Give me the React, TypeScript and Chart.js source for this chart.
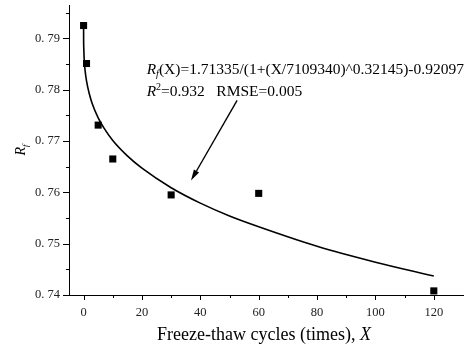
import React, { useEffect, useRef } from "react";
import { Chart, registerables } from "chart.js";

Chart.register(...registerables);

// Measured points
const cyclesX = [0, 1, 5, 10, 30, 60, 120];
const rfValues = [0.7925, 0.7851, 0.7731, 0.7665, 0.7595, 0.7598, 0.7408];

// Fitted curve
const fitX = [0, 0.01, 0.05, 0.2, 0.5, 1, 2, 3, 5, 7, 10, 15, 20, 30, 40, 50, 60, 80, 100, 120];
const fitY = [0.7924, 0.7899, 0.7883, 0.786, 0.7838, 0.7817, 0.7791, 0.7772, 0.7745, 0.7725, 0.7701, 0.7671, 0.7647, 0.7609, 0.7579, 0.7554, 0.7533, 0.7495, 0.7464, 0.7437];

const xTicks = [0, 20, 40, 60, 80, 100, 120];
const xMinorTicks = [10, 30, 50, 70, 90, 110];
const yTicks = [0.74, 0.75, 0.76, 0.77, 0.78, 0.79];
const yMinorTicks = [0.745, 0.755, 0.765, 0.775, 0.785, 0.795];

const xTitle = "Freeze-thaw cycles (times), ";
const xTitleItalic = "X";
const fitText = "(X)=1.71335/(1+(X/7109340)^0.32145)-0.92097";
const statsText = "=0.932   RMSE=0.005";

// anchors (data coordinates)
const textAnchor = { x: 21.6, y1: 0.783, y2: 0.7788 };
const arrowFrom = { x: 52.6, y: 0.7779 };
const arrowTo = { x: 36.8, y: 0.7623 };

const SERIF = "'Liberation Serif', 'Times New Roman', serif";

const decorPlugin = {
  id: "decor",
  afterDraw(chart: any) {
    const ctx = chart.ctx;
    const xs = chart.scales.x;
    const ys = chart.scales.y;
    const area = chart.chartArea;
    ctx.save();
    ctx.strokeStyle = "#000";
    ctx.lineWidth = 1;
    // x ticks
    ctx.beginPath();
    xTicks.forEach((v) => {
      const px = Math.round(xs.getPixelForValue(v)) + 0.5;
      ctx.moveTo(px, area.bottom);
      ctx.lineTo(px, area.bottom + 5);
    });
    xMinorTicks.forEach((v) => {
      const px = Math.round(xs.getPixelForValue(v)) + 0.5;
      ctx.moveTo(px, area.bottom);
      ctx.lineTo(px, area.bottom + 3);
    });
    yTicks.forEach((v) => {
      const py = Math.round(ys.getPixelForValue(v)) + 0.5;
      ctx.moveTo(area.left, py);
      ctx.lineTo(area.left - 6, py);
    });
    yMinorTicks.forEach((v) => {
      const py = Math.round(ys.getPixelForValue(v)) + 0.5;
      ctx.moveTo(area.left, py);
      ctx.lineTo(area.left - 3, py);
    });
    ctx.stroke();

    // equation text
    ctx.fillStyle = "#000";
    ctx.textBaseline = "alphabetic";
    ctx.textAlign = "left";
    let tx = xs.getPixelForValue(textAnchor.x);
    const ty1 = ys.getPixelForValue(textAnchor.y1);
    const ty2 = ys.getPixelForValue(textAnchor.y2);
    ctx.font = `italic 15.5px ${SERIF}`;
    ctx.fillText("R", tx, ty1);
    let w = ctx.measureText("R").width;
    ctx.font = `italic 10px ${SERIF}`;
    ctx.fillText("f", tx + w, ty1 + 3);
    w += ctx.measureText("f").width;
    ctx.font = `15.5px ${SERIF}`;
    ctx.fillText(fitText, tx + w, ty1);

    ctx.font = `italic 15.5px ${SERIF}`;
    ctx.fillText("R", tx, ty2);
    w = ctx.measureText("R").width;
    ctx.font = `10px ${SERIF}`;
    ctx.fillText("2", tx + w, ty2 - 6);
    w += ctx.measureText("2").width;
    ctx.font = `15.5px ${SERIF}`;
    ctx.fillText(statsText, tx + w, ty2);

    // arrow
    const ax0 = xs.getPixelForValue(arrowFrom.x);
    const ay0 = ys.getPixelForValue(arrowFrom.y);
    const ax1 = xs.getPixelForValue(arrowTo.x);
    const ay1 = ys.getPixelForValue(arrowTo.y);
    const ang = Math.atan2(ay1 - ay0, ax1 - ax0);
    const headLen = 11;
    const headW = 3;
    const bx = ax1 - headLen * Math.cos(ang);
    const by = ay1 - headLen * Math.sin(ang);
    ctx.lineWidth = 1.4;
    ctx.beginPath();
    ctx.moveTo(ax0, ay0);
    ctx.lineTo(bx, by);
    ctx.stroke();
    ctx.beginPath();
    ctx.moveTo(ax1, ay1);
    ctx.lineTo(bx + headW * Math.sin(ang), by - headW * Math.cos(ang));
    ctx.lineTo(bx - headW * Math.sin(ang), by + headW * Math.cos(ang));
    ctx.closePath();
    ctx.fill();

    // x title
    ctx.font = `18px ${SERIF}`;
    const w1 = ctx.measureText(xTitle).width;
    ctx.font = `italic 18px ${SERIF}`;
    const w2 = ctx.measureText(xTitleItalic).width;
    const cx = (area.left + area.right) / 2 - 2;
    const startX = cx - (w1 + w2) / 2;
    const by2 = chart.height - 7;
    ctx.font = `18px ${SERIF}`;
    ctx.fillText(xTitle, startX, by2);
    ctx.font = `italic 18px ${SERIF}`;
    ctx.fillText(xTitleItalic, startX + w1, by2);

    // y title (rotated)
    ctx.save();
    const cy = (area.top + area.bottom) / 2;
    ctx.translate(25, cy);
    ctx.rotate(-Math.PI / 2);
    ctx.font = `italic 14px ${SERIF}`;
    const rw = ctx.measureText("R").width;
    ctx.font = `italic 9px ${SERIF}`;
    const fw = ctx.measureText("f").width;
    const sx = -(rw + fw) / 2;
    ctx.font = `italic 14px ${SERIF}`;
    ctx.fillText("R", sx, 0);
    ctx.font = `italic 9px ${SERIF}`;
    ctx.fillText("f", sx + rw, 3);
    ctx.restore();

    ctx.restore();
  },
};

export default function App() {
  const canvasRef = useRef<HTMLCanvasElement | null>(null);

  useEffect(() => {
    if (!canvasRef.current) return;
    const chart = new Chart(canvasRef.current, {
      type: "scatter",
      data: {
        datasets: [
          {
            type: "line",
            data: fitX.map((x, i) => ({ x, y: fitY[i] })),
            borderColor: "#000",
            borderWidth: 1.6,
            pointRadius: 0,
            fill: false,
            cubicInterpolationMode: "monotone",
          } as any,
          {
            data: cyclesX.map((x, i) => ({ x, y: rfValues[i] })),
            pointStyle: "rect",
            pointRadius: 5,
            backgroundColor: "#000",
            borderColor: "#000",
            borderWidth: 0,
          },
        ],
      },
      options: {
        animation: false,
        responsive: false,
        maintainAspectRatio: false,
        layout: { padding: { top: 5, right: 8, left: 0, bottom: 0 } },
        plugins: { legend: { display: false }, tooltip: { enabled: false } },
        scales: {
          x: {
            type: "linear",
            min: -5,
            max: 130,
            grid: { display: false, drawTicks: false },
            border: { display: true, color: "#000", width: 1 },
            afterBuildTicks: (s: any) => {
              s.ticks = xTicks.map((v) => ({ value: v }));
            },
            afterFit: (s: any) => {
              s.height = 52;
              s.paddingLeft = 0;
              s.paddingRight = 0;
            },
            ticks: {
              padding: 10,
              color: "#222",
              font: { family: SERIF, size: 12.5 },
              callback: (v: any) => String(v),
            },
          },
          y: {
            type: "linear",
            min: 0.74,
            max: 0.7965,
            grid: { display: false, drawTicks: false },
            border: { display: true, color: "#000", width: 1 },
            afterBuildTicks: (s: any) => {
              s.ticks = yTicks.map((v) => ({ value: v }));
            },
            afterFit: (s: any) => {
              s.width = 69;
              s.paddingTop = 0;
              s.paddingBottom = 0;
            },
            ticks: {
              padding: 9,
              color: "#222",
              font: { family: SERIF, size: 12.5 },
              callback: (v: any) => Number(v).toFixed(2).replace(".", ". "),
            },
          },
        },
      },
      plugins: [decorPlugin],
    });
    return () => chart.destroy();
  }, []);

  return (
    <div style={{ position: "absolute", left: 0, top: 0, width: 471, height: 347, background: "#fff" }}>
      <canvas ref={canvasRef} width={471} height={347} style={{ width: 471, height: 347, display: "block" }} />
    </div>
  );
}
